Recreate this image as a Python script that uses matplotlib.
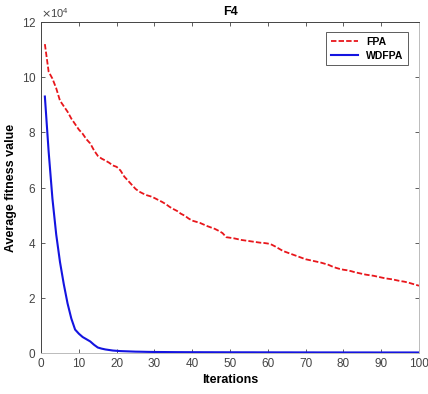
import numpy as np
import matplotlib
matplotlib.use('Agg')
from matplotlib import pyplot as plt
from matplotlib.ticker import ScalarFormatter

plt.rcParams['font.family'] = ['Liberation Sans', 'DejaVu Sans']

iterations = np.arange(1, 101)

# average fitness values, in units of 1e4
fpa = [11.2, 10.2, 9.95, 9.6, 9.15, 8.95, 8.75, 8.5, 8.3, 8.1,
       7.95, 7.75, 7.6, 7.35, 7.15, 7.05, 6.98, 6.9, 6.8, 6.75,
       6.62, 6.4, 6.25, 6.1, 5.95, 5.85, 5.78, 5.72, 5.68, 5.62,
       5.55, 5.48, 5.4, 5.3, 5.22, 5.15, 5.05, 4.98, 4.88, 4.8,
       4.76, 4.72, 4.66, 4.6, 4.55, 4.5, 4.43, 4.35, 4.2, 4.18,
       4.16, 4.13, 4.1, 4.08, 4.06, 4.04, 4.02, 4.0, 3.99, 3.97,
       3.93, 3.86, 3.78, 3.7, 3.65, 3.6, 3.55, 3.5, 3.45, 3.4,
       3.37, 3.34, 3.31, 3.28, 3.24, 3.2, 3.14, 3.09, 3.05, 3.02,
       3.0, 2.97, 2.93, 2.9, 2.87, 2.84, 2.82, 2.8, 2.77, 2.74,
       2.71, 2.69, 2.67, 2.64, 2.61, 2.59, 2.56, 2.52, 2.48, 2.44]

wdfpa = [9.3, 7.3, 5.6, 4.3, 3.3, 2.5, 1.8, 1.25, 0.85, 0.7,
         0.58, 0.5, 0.42, 0.3, 0.2, 0.16, 0.13, 0.11, 0.09, 0.08,
         0.07, 0.065, 0.06, 0.055, 0.05, 0.048, 0.045, 0.042, 0.04, 0.038,
         0.037, 0.036, 0.035, 0.034, 0.033, 0.032, 0.032, 0.031, 0.031, 0.03,
         0.03, 0.03, 0.029, 0.029, 0.029, 0.028, 0.028, 0.028, 0.027, 0.027,
         0.027, 0.027, 0.026, 0.026, 0.026, 0.026, 0.025, 0.025, 0.025, 0.025,
         0.025, 0.024, 0.024, 0.024, 0.024, 0.024, 0.023, 0.023, 0.023, 0.023,
         0.023, 0.023, 0.022, 0.022, 0.022, 0.022, 0.022, 0.022, 0.022, 0.021,
         0.021, 0.021, 0.021, 0.021, 0.021, 0.021, 0.021, 0.02, 0.02, 0.02,
         0.02, 0.02, 0.02, 0.02, 0.02, 0.02, 0.02, 0.02, 0.02, 0.02]

fig = plt.figure(figsize=(4.28, 3.94), dpi=100)
ax = fig.add_axes([0.096, 0.104, 0.883, 0.84])

ax.plot(iterations, np.array(fpa) * 1e4, color='#e8161b', linestyle='--',
        linewidth=1.3, dashes=(3, 1.2), label='FPA')
ax.plot(iterations, np.array(wdfpa) * 1e4, color='#1414e0', linestyle='-',
        linewidth=1.5, label='WDFPA')

ax.set_xlim(0, 100)
ax.set_ylim(0, 120000)
ax.set_xticks(range(0, 101, 10))
ax.set_yticks(range(0, 120001, 20000))

fmt = ScalarFormatter(useMathText=True)
fmt.set_powerlimits((4, 4))
ax.yaxis.set_major_formatter(fmt)
ax.yaxis.get_offset_text().set_fontsize(8)
ax.yaxis.get_offset_text().set_color('#555555')

ax.tick_params(direction='in', top=True, right=True, length=3,
               labelsize=8.5, colors='#444444', width=0.6)
for s in ax.spines.values():
    s.set_color('#444444')
    s.set_linewidth(0.7)
ax.spines['right'].set_color('#bbbbbb')
ax.spines['bottom'].set_color('#bbbbbb')

ax.set_title('F4', fontsize=9, fontweight='bold', pad=5)
ax.set_xlabel('Iterations', fontsize=9, fontweight='bold', labelpad=3)
ax.set_ylabel('Average fitness value', fontsize=9, fontweight='bold', labelpad=3)

leg = ax.legend(loc='upper right', bbox_to_anchor=(0.985, 0.985), fancybox=False,
                frameon=True, edgecolor='#333333', handlelength=2.6,
                borderpad=0.45, labelspacing=0.35,
                prop={'weight': 'bold', 'size': 7.5})
leg.get_frame().set_linewidth(0.7)

fig.savefig('out.png', dpi=100)
